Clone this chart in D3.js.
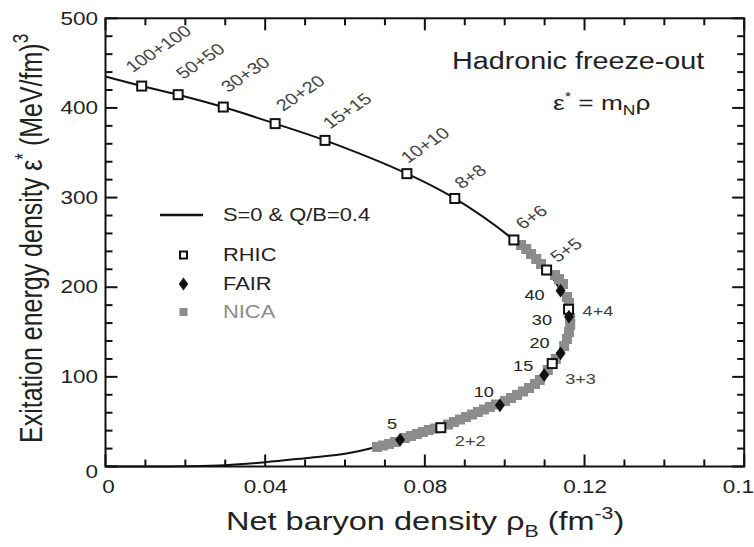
<!DOCTYPE html>
<html>
<head>
<meta charset="utf-8">
<script src="https://cdn.jsdelivr.net/npm/d3@7"></script>
<style>
  body { margin: 0; background: #fff; }
  svg text { font-family: "Liberation Sans", Arial, Helvetica, sans-serif; }
</style>
</head>
<body>
<div id="chart"></div>
<script>
// freeze-out line (rho_B in fm^-3, eps* in MeV/fm^3)
const curveRho = [0, 0.00907, 0.0182, 0.0295, 0.0425, 0.055, 0.0755, 0.0875, 0.1023, 0.1105, 0.1140, 0.1160,
                  0.1164, 0.1160, 0.1143, 0.1122, 0.1097, 0.1045, 0.0987, 0.0910, 0.0840, 0.0738, 0.0680,
                  0.0600, 0.0500, 0.0400, 0.0300, 0.0200, 0.0100, 0];
const curveEps = [435, 424.4, 414.8, 401, 382.5, 363.8, 326.7, 299, 252.7, 219.2, 196.1, 175.4,
                  160, 145, 125, 113.8, 101.6, 84, 68, 54, 43.3, 29.8, 22,
                  14.1, 9.3, 4.8, 1.5, 0.3, 0, 0];

// RHIC (open squares)
const rhicLabels = ["100+100", "50+50", "30+30", "20+20", "15+15", "10+10", "8+8", "6+6", "5+5", "4+4", "3+3", "2+2"];
const rhicRho = [0.00907, 0.0182, 0.0295, 0.0425, 0.055, 0.0755, 0.0875, 0.1023, 0.1105, 0.1160, 0.1119, 0.0840];
const rhicEps = [424.4, 414.8, 401, 382.5, 363.8, 326.7, 299, 252.7, 219.2, 175.4, 114.8, 43.3];

// FAIR (black diamonds)
const fairLabels = ["5", "10", "15", "20", "30", "40"];
const fairRho = [0.0738, 0.0988, 0.1099, 0.1140, 0.1161, 0.1140];
const fairEps = [29.8, 68.2, 102, 126.2, 167.1, 196.1];

// NICA (grey squares)
const nicaRho = [0.0680, 0.0695, 0.0710, 0.0725, 0.0750, 0.0765, 0.0780, 0.0795, 0.0810, 0.0825,
                 0.0858, 0.0873, 0.0888, 0.0903, 0.0918, 0.0933, 0.0948, 0.0963, 0.0978, 0.1001,
                 0.1016, 0.1031, 0.1046, 0.1061, 0.1076, 0.1088, 0.1108, 0.1128, 0.1149, 0.1156,
                 0.1161, 0.1164, 0.1164, 0.1161, 0.1156, 0.1146, 0.1136, 0.1126, 0.1091, 0.1079,
                 0.1066, 0.1054, 0.1041];
const nicaEps = [21.8, 23.4, 25.1, 27.3, 31.8, 34.0, 36.3, 38.5, 40.7, 42.4,
                 46.8, 49.6, 52.4, 55.2, 58.0, 60.8, 63.6, 66.4, 69.2, 73.1,
                 76.4, 79.8, 83.7, 87.6, 92.0, 96.5, 107.6, 119.9, 134.4, 142.2,
                 150.0, 157.8, 165.6, 182.4, 189.1, 203.6, 209.1, 213.6, 225.9, 231.5,
                 237.0, 242.6, 247.1];

const xMajor = [0, 0.04, 0.08, 0.12, 0.16];
const xTickLabels = ["0", "0.04", "0.08", "0.12", "0.16"];
const yMajor = [0, 100, 200, 300, 400, 500];

// label placement (screen offsets from the marker)
const rhicLabelOffset = [[-9,-13],[5,-15],[5,-14],[8,-12],[5,-11],[1,-10],[7,-9],[9,-10],[11,-7],[14,7],[13,20],[14,18]];
const rhicLabelRot = [40,40,40,40,40,40,40,40,40,0,0,0];
const fairLabelOffset = [[-8,-11],[-6,-8],[-11,-4],[-11,-5],[-17,8],[-16,9]];

const W = 754, H = 547;
const SX = 1.25; // the original figure is stretched horizontally
const margin = {left: 105.5, right: 10, top: 18.3, bottom: 80.5};

const svg = d3.select("#chart").append("svg")
    .attr("width", W).attr("height", H);

const x = d3.scaleLinear().domain([0, 0.16]).range([margin.left, 744.2]);
const y = d3.scaleLinear().domain([0, 500]).range([466.5, margin.top]);

function label(parent, px, py, rot) {
    return parent.append("g")
        .attr("transform", `translate(${px},${py}) scale(${SX},1)` + (rot ? ` rotate(${-rot})` : ""))
        .append("text");
}

// tick labels through d3 axes
const gx = svg.append("g").attr("transform", `translate(0,${y(0)})`)
    .call(d3.axisBottom(x).tickValues(xMajor).tickSize(0).tickFormat((d, i) => xTickLabels[i]));
const gy = svg.append("g").attr("transform", `translate(${x(0)},0)`)
    .call(d3.axisLeft(y).tickValues(yMajor).tickSize(0));
svg.selectAll(".domain").remove();

gx.selectAll("text")
    .attr("transform", `scale(${SX},1)`)
    .attr("y", 14).attr("dy", "0.71em")
    .attr("font-size", 18).attr("fill", "#222");
gx.selectAll(".tick text").filter((d, i) => i === 0).attr("x", 2);
gy.selectAll("text")
    .attr("transform", `scale(${SX},1)`)
    .attr("x", -6)
    .attr("font-size", 18).attr("fill", "#222");
gy.selectAll(".tick text").filter((d, i) => i === 0).attr("dy", "0.6em");

// inward tick marks on all four sides
const xMinor = d3.range(0, 17).map(i => i / 100);
const yMinor = d3.range(0, 26).map(i => i * 20);
const isXMajor = v => Math.abs(v / 0.04 - Math.round(v / 0.04)) < 1e-6;
const isYMajor = v => v % 100 === 0;
const ticks = svg.append("g").attr("stroke", "#111").attr("stroke-width", 2);
ticks.append("g").selectAll("line").data(xMinor).join("line")
    .attr("x1", d => x(d)).attr("x2", d => x(d))
    .attr("y1", y(0)).attr("y2", d => y(0) - (isXMajor(d) ? 12 : 7));
ticks.append("g").selectAll("line").data(xMinor).join("line")
    .attr("x1", d => x(d)).attr("x2", d => x(d))
    .attr("y1", y(500)).attr("y2", d => y(500) + (isXMajor(d) ? 12 : 7));
ticks.append("g").selectAll("line").data(yMinor).join("line")
    .attr("y1", d => y(d)).attr("y2", d => y(d))
    .attr("x1", x(0)).attr("x2", d => x(0) + (isYMajor(d) ? 12 : 7));
ticks.append("g").selectAll("line").data(yMinor).join("line")
    .attr("y1", d => y(d)).attr("y2", d => y(d))
    .attr("x1", x(0.16)).attr("x2", d => x(0.16) - (isYMajor(d) ? 12 : 7));

// frame
svg.append("rect")
    .attr("x", x(0)).attr("y", y(500))
    .attr("width", x(0.16) - x(0)).attr("height", y(0) - y(500))
    .attr("fill", "none").attr("stroke", "#111").attr("stroke-width", 2);

// freeze-out curve
const curveData = curveRho.map((r, i) => ({r: r, e: curveEps[i]}));
svg.append("path")
    .datum(curveData)
    .attr("fill", "none")
    .attr("stroke", "#111")
    .attr("stroke-width", 2)
    .attr("d", d3.line().x(d => x(d.r)).y(d => y(d.e)).curve(d3.curveCatmullRom.alpha(0.5)));

// NICA
const nica = nicaRho.map((r, i) => ({r: r, e: nicaEps[i]}));
svg.append("g").selectAll("rect")
    .data(nica).join("rect")
    .attr("x", d => x(d.r) - 5).attr("y", d => y(d.e) - 5)
    .attr("width", 10).attr("height", 10)
    .attr("fill", "#8c8c8c");

// RHIC
const rhic = rhicRho.map((r, i) => ({r: r, e: rhicEps[i], t: rhicLabels[i]}));
svg.append("g").selectAll("rect")
    .data(rhic).join("rect")
    .attr("x", d => x(d.r) - 4.5).attr("y", d => y(d.e) - 4.5)
    .attr("width", 9).attr("height", 9)
    .attr("fill", "#fff").attr("stroke", "#111").attr("stroke-width", 2);

// FAIR
const fair = fairRho.map((r, i) => ({r: r, e: fairEps[i], t: fairLabels[i]}));
const diamond = d3.symbol(d3.symbolDiamond, 55);
svg.append("g").selectAll("path")
    .data(fair).join("path")
    .attr("transform", d => `translate(${x(d.r)},${y(d.e)}) scale(${SX},1)`)
    .attr("d", diamond)
    .attr("fill", "#111");

// point labels
rhic.forEach((d, i) => {
    const o = rhicLabelOffset[i];
    label(svg, x(d.r) + o[0], y(d.e) + o[1], rhicLabelRot[i])
        .attr("font-size", rhicLabelRot[i] ? 16 : 14.5)
        .attr("fill", "#444")
        .text(d.t);
});
fair.forEach((d, i) => {
    const o = fairLabelOffset[i];
    label(svg, x(d.r) + o[0], y(d.e) + o[1], 0)
        .attr("font-size", 14.5)
        .attr("text-anchor", i === 0 ? "middle" : "end")
        .attr("fill", "#222")
        .text(d.t);
});

// annotations
label(svg, 452, 69, 0).attr("font-size", 23).attr("fill", "#222").text("Hadronic freeze-out");
const eq = label(svg, 553, 110, 0).attr("font-size", 21).attr("fill", "#222");
eq.append("tspan").text("ε");
eq.append("tspan").attr("font-size", 13).attr("dy", -9).text("*");
eq.append("tspan").attr("dy", 9).text(" = m");
eq.append("tspan").attr("font-size", 14).attr("dy", 5).text("N");
eq.append("tspan").attr("dy", -5).text("ρ");

// legend
const lg = svg.append("g");
lg.append("line").attr("x1", 160).attr("x2", 203).attr("y1", 215).attr("y2", 215)
    .attr("stroke", "#111").attr("stroke-width", 2.5);
lg.append("rect").attr("x", 180).attr("y", 251.5).attr("width", 7).attr("height", 7)
    .attr("fill", "#fff").attr("stroke", "#111").attr("stroke-width", 2);
lg.append("path").attr("transform", `translate(183.5,284) scale(${SX},1)`)
    .attr("d", d3.symbol(d3.symbolDiamond, 50)).attr("fill", "#111");
lg.append("rect").attr("x", 179.5).attr("y", 308).attr("width", 8).attr("height", 8)
    .attr("fill", "#8c8c8c");
const legendItems = [["S=0 & Q/B=0.4", 221, "#222"], ["RHIC", 261, "#222"], ["FAIR", 290, "#222"], ["NICA", 318, "#8c8c8c"]];
legendItems.forEach(it => {
    label(lg, 223, it[1], 0).attr("font-size", 17.5).attr("fill", it[2]).text(it[0]);
});

// axis titles
const xt = label(svg, 226, 530, 0).attr("font-size", 26).attr("fill", "#222");
xt.append("tspan").text("Net baryon density ρ");
xt.append("tspan").attr("font-size", 17).attr("dy", 7).text("B");
xt.append("tspan").attr("dy", -7).text(" (fm");
xt.append("tspan").attr("font-size", 17).attr("dy", -11).text("-3");
xt.append("tspan").attr("dy", 11).text(")");

const yt = svg.append("g")
    .attr("transform", `translate(42,443) scale(${SX},1) rotate(-90)`)
    .append("text").attr("font-size", 25).attr("fill", "#222");
yt.append("tspan").text("Exitation energy density  ε");
yt.append("tspan").attr("font-size", 17).attr("dy", -10).text("*");
yt.append("tspan").attr("dy", 10).text("  (MeV/fm)");
yt.append("tspan").attr("font-size", 17).attr("dy", -11).text("3");
</script>
</body>
</html>
